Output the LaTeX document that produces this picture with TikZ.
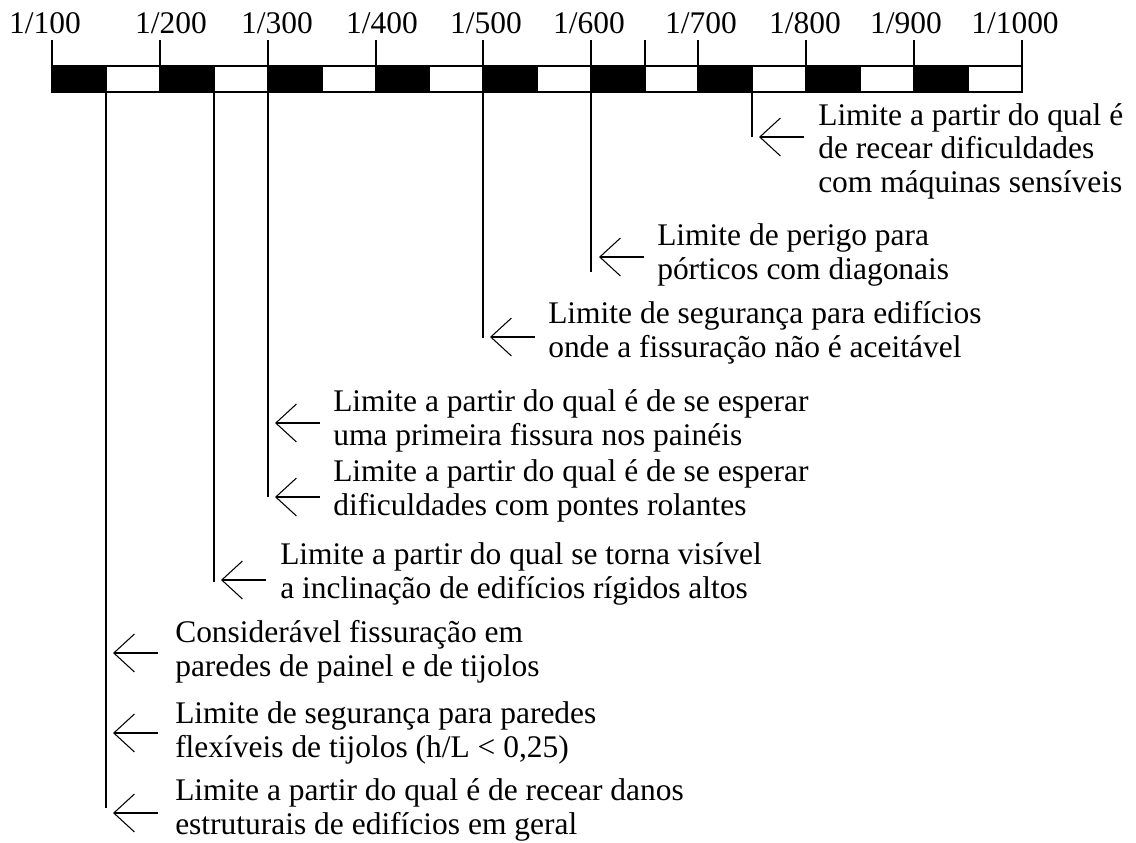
\documentclass[tikz,border=0pt]{standalone}
\usepackage{fontspec}
\setmainfont{Liberation Serif}
\usetikzlibrary{arrows.meta, positioning}

\begin{document}
\begin{tikzpicture}[x=0.75pt, y=-0.75pt,
  bloco/.style={fill=black, draw=black, line width=0.9pt},
  traco/.style={black, line width=0.9pt},
  seta/.style={black, line width=0.8pt, -{Straight Barb[length=15.5pt, width=28.5pt]}},
  escala/.style={font=\fontsize{23.6}{25}\selectfont, anchor=base, inner sep=0pt},
  texto/.style={font=\fontsize{23.6}{25}\selectfont, anchor=base west, align=left, inner sep=0pt}]
\useasboundingbox (0,0) rectangle (1136,843);
% barra da escala
\draw [bloco] (52,66)  rectangle (106,92);
\draw [bloco] (160,66) rectangle (214,92);
\draw [bloco] (268,66) rectangle (322,92);
\draw [bloco] (376,66) rectangle (429,92);
\draw [bloco] (483,66) rectangle (537,92);
\draw [bloco] (591,66) rectangle (645,92);
\draw [bloco] (698,66) rectangle (752,92);
\draw [bloco] (806,66) rectangle (860,92);
\draw [bloco] (914,66) rectangle (968,92);
\draw [traco] (52,66) rectangle (1022,92);
% tracos de cima
\draw [traco] (52,40)   -- (52,66);
\draw [traco] (160,40)  -- (160,66);
\draw [traco] (268,40)  -- (268,66);
\draw [traco] (376,40)  -- (376,66);
\draw [traco] (483,40)  -- (483,66);
\draw [traco] (591,40)  -- (591,66);
\draw [traco] (645,40)  -- (645,66);
\draw [traco] (698,40)  -- (698,66);
\draw [traco] (806,40)  -- (806,66);
\draw [traco] (914,40)  -- (914,66);
\draw [traco] (1022,40) -- (1022,66);
\node [escala] (e100)  at (45,33)   {1/100};
\node [escala] (e200)  at (171,33)  {1/200};
\node [escala] (e300)  at (277,33)  {1/300};
\node [escala] (e400)  at (382,33)  {1/400};
\node [escala] (e500)  at (486,33)  {1/500};
\node [escala] (e600)  at (589,33)  {1/600};
\node [escala] (e700)  at (701,33)  {1/700};
\node [escala] (e800)  at (805,33)  {1/800};
\node [escala] (e900)  at (906,33)  {1/900};
\node [escala] (e1000) at (1015,33) {1/1000};
% linhas de chamada
\coordinate (b150) at (106,92);  \coordinate (f150) at (106,808);
\coordinate (b250) at (214,92);  \coordinate (f250) at (214,582);
\coordinate (b300) at (268,92);  \coordinate (f300) at (268,497);
\coordinate (b500) at (483,92);  \coordinate (f500) at (483,338);
\coordinate (b600) at (591,92);  \coordinate (f600) at (591,272);
\coordinate (b750) at (752,92);  \coordinate (f750) at (752,137);
\draw [traco] (b150) -- (f150);
\draw [traco] (b250) -- (f250);
\draw [traco] (b300) -- (f300);
\draw [traco] (b500) -- (f500);
\draw [traco] (b600) -- (f600);
\draw [traco] (b750) -- (f750);
% textos (ancorados na linha de base da ultima linha)
\node [texto] (t1) at (818,192) {Limite a partir do qual é\\de recear dificuldades\\com máquinas sensíveis};
\node [texto] (t2) at (657,279) {Limite de perigo para\\pórticos com diagonais};
\node [texto] (t3) at (548,357) {Limite de segurança para edifícios\\onde a fissuração não é aceitável};
\node [texto] (t4) at (333,445) {Limite a partir do qual é de se esperar\\uma primeira fissura nos painéis};
\node [texto] (t5) at (333,515) {Limite a partir do qual é de se esperar\\dificuldades com pontes rolantes};
\node [texto] (t6) at (280,598) {Limite a partir do qual se torna visível\\a inclinação de edifícios rígidos altos};
\node [texto] (t7) at (175,676) {Considerável fissuração em\\paredes de painel e de tijolos};
\node [texto] (t8) at (175,757) {Limite de segurança para paredes\\flexíveis de tijolos (h/L < 0,25)};
\node [texto] (t9) at (175,834) {Limite a partir do qual é de recear danos\\estruturais de edifícios em geral};
% setas
\coordinate (s1) at (804,137); \coordinate (p1) at (759,137);
\coordinate (s2) at (644,257); \coordinate (p2) at (599,257);
\coordinate (s3) at (535,337); \coordinate (p3) at (490,337);
\coordinate (s4) at (320,423); \coordinate (p4) at (275,423);
\coordinate (s5) at (320,497); \coordinate (p5) at (275,497);
\coordinate (s6) at (266,580); \coordinate (p6) at (221,580);
\coordinate (s7) at (158,653); \coordinate (p7) at (113,653);
\coordinate (s8) at (158,733); \coordinate (p8) at (113,733);
\coordinate (s9) at (158,813); \coordinate (p9) at (113,813);
\draw [seta] (s1) -- (p1);
\draw [seta] (s2) -- (p2);
\draw [seta] (s3) -- (p3);
\draw [seta] (s4) -- (p4);
\draw [seta] (s5) -- (p5);
\draw [seta] (s6) -- (p6);
\draw [seta] (s7) -- (p7);
\draw [seta] (s8) -- (p8);
\draw [seta] (s9) -- (p9);
\end{tikzpicture}
\end{document}
